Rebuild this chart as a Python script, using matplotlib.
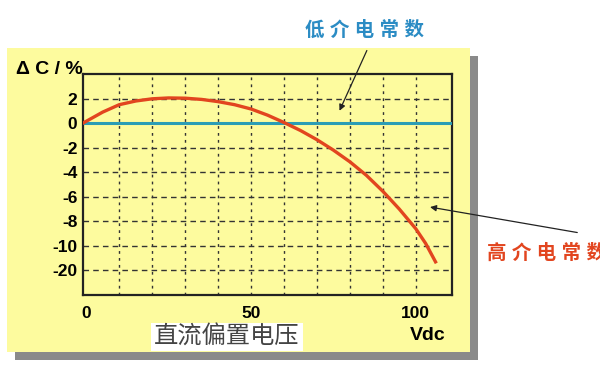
import matplotlib
matplotlib.use('Agg')
import matplotlib.pyplot as plt
from matplotlib.patches import Rectangle

plt.rcParams['font.family'] = ['Liberation Sans', 'Noto Sans CJK SC', 'DejaVu Sans']

# bias voltage (Vdc) vs capacitance change, y in axis position units
# (the lowest tick is labelled -20 although it sits one step below -10)
high_k_v = [-1, 2, 5, 10, 15, 20, 25, 30, 35, 40, 45, 50, 55, 60, 65, 70, 75, 80, 85, 90,
            95, 100, 103, 106]
high_k_dc = [0, 0.45, 0.9, 1.5, 1.8, 1.98, 2.05, 2.03, 1.93, 1.75, 1.5, 1.15, 0.65, 0.05,
             -0.6, -1.35, -2.2, -3.15, -4.25, -5.55, -7.0, -8.6, -9.8, -11.3]
low_k_v = [-1, 111]
low_k_dc = [0, 0]

y_tick_pos = [2, 0, -2, -4, -6, -8, -10, -12]
y_tick_labels = ['2', '0', '-2', '-4', '-6', '-8', '-10', '-20']
x_grid = [10, 20, 30, 40, 50, 60, 70, 80, 90, 100]
x_tick_labels = {0: '0', 50: '50', 100: '100'}

fig = plt.figure(figsize=(6, 3.71), dpi=100)
W, H = 600, 371

def px(x, y):
    # image pixel (from top-left) -> figure fraction
    return x / W, 1 - y / H

# yellow panel with grey drop shadow
fig.patches.append(Rectangle(px(15, 360), 463 / W, 304 / H, transform=fig.transFigure,
                             facecolor='#8a8a8a', edgecolor='none', zorder=-2))
fig.patches.append(Rectangle(px(7, 352), 463 / W, 304 / H, transform=fig.transFigure,
                             facecolor='#fdfb9e', edgecolor='none', zorder=-1))

l, b = px(83, 295)
ax = fig.add_axes([l, b, (452 - 83) / W, (295 - 74) / H])
ax.set_facecolor('none')
ax.set_xlim(-1, 111)
ax.set_ylim(-14, 4)

for x in x_grid:
    ax.axvline(x, color='#333333', lw=1.0, ls=(0, (2, 3)), zorder=1)
for y in y_tick_pos:
    ax.axhline(y, color='#333333', lw=1.0, ls=(0, (4, 3)), zorder=1)

ax.plot(low_k_v, low_k_dc, color='#2a9db5', lw=2.2, zorder=3, solid_capstyle='butt')
ax.plot(high_k_v, high_k_dc, color='#e2451f', lw=2.4, zorder=4)

ax.set_yticks(y_tick_pos)
ax.set_yticklabels(y_tick_labels, fontsize=12.5, fontweight='bold')
ax.set_xticks(list(x_tick_labels.keys()))
ax.set_xticklabels(list(x_tick_labels.values()), fontsize=12.5, fontweight='bold')
ax.tick_params(axis='y', length=0, pad=4)
ax.tick_params(axis='x', length=0, pad=8)
for s in ax.spines.values():
    s.set_color('#222222')
    s.set_linewidth(1.6)

fig.text(*px(16, 70), 'Δ C / %', fontsize=14, fontweight='bold', va='center', ha='left')
fig.text(*px(428, 336), 'Vdc', fontsize=14, fontweight='bold', va='center', ha='center')
fig.text(*px(227, 337), '直流偏置电压', fontsize=17.5, color='#444444', va='center', ha='center',
         bbox=dict(boxstyle='square,pad=0.12', facecolor='white', edgecolor='none'))

fig.text(*px(365, 30), '低 介 电 常 数', fontsize=14, fontweight='bold', color='#2b8cc4',
         va='center', ha='center')
fig.text(*px(487, 253), '高 介 电 常 数', fontsize=14, fontweight='bold', color='#e2451f',
         va='center', ha='left')

ax.annotate('', xy=(76.5, 0.8), xycoords='data', xytext=px(368, 48), textcoords='figure fraction',
            arrowprops=dict(arrowstyle='-|>', color='#222222', lw=0.9, mutation_scale=9),
            annotation_clip=False)
ax.annotate('', xy=(103.5, -6.8), xycoords='data', xytext=px(580, 233), textcoords='figure fraction',
            arrowprops=dict(arrowstyle='-|>', color='#222222', lw=0.9, mutation_scale=9),
            annotation_clip=False)

fig.savefig('out.png', dpi=100, facecolor='white')
